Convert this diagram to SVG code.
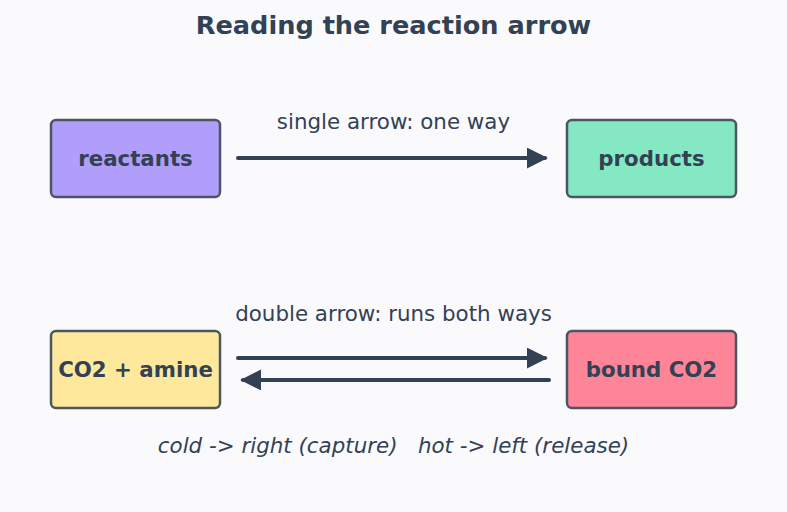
<svg xmlns="http://www.w3.org/2000/svg" width="787" height="512" viewBox="0 0 787 512">
<style>
text{font-family:"DejaVu Sans",sans-serif;fill:#334155}
.title{font-size:25.6px;font-weight:bold}
.node{font-size:21.3px;font-weight:bold}
.lbl{font-size:21.4px}
.note{font-size:21.4px;font-style:italic;white-space:pre}
.box{stroke:#4b5563;stroke-width:2.5}
.conn{stroke:#334155;stroke-width:4;fill:none;stroke-linecap:round}
</style>
<defs>
<marker id="ah" markerWidth="5.5" markerHeight="5.5" refX="4.5" refY="2.6" orient="auto" markerUnits="strokeWidth">
<path d="M0,0 L5.2,2.6 L0,5.2 z" fill="#334155"/>
</marker>
</defs>
<rect width="787" height="512" fill="#fafafd"/>
<text class="title" x="393.5" y="34" text-anchor="middle">Reading the reaction arrow</text>
<g id="reactants"><rect class="box" x="51" y="120" width="169" height="77" rx="5" fill="#b19dfa"/><text class="node" x="135.5" y="165.5" text-anchor="middle">reactants</text></g>
<g id="products"><rect class="box" x="567" y="120" width="169" height="77" rx="5" fill="#84e9c2"/><text class="node" x="651.5" y="165.5" text-anchor="middle">products</text></g>
<g id="co2amine"><rect class="box" x="51" y="331" width="169" height="77" rx="5" fill="#fde89b"/><text class="node" x="135.5" y="376.5" text-anchor="middle">CO2 + amine</text></g>
<g id="boundco2"><rect class="box" x="567" y="331" width="169" height="77" rx="5" fill="#fe8497"/><text class="node" x="651.5" y="376.5" text-anchor="middle">bound CO2</text></g>
<g id="connectors">
<line class="conn" x1="238" y1="158" x2="545" y2="158" marker-end="url(#ah)"/>
<line class="conn" x1="238" y1="358" x2="545" y2="358" marker-end="url(#ah)"/>
<line class="conn" x1="549" y1="380" x2="243" y2="380" marker-end="url(#ah)"/>
</g>
<text class="lbl" x="393.5" y="129" text-anchor="middle">single arrow: one way</text>
<text class="lbl" x="393.5" y="321" text-anchor="middle">double arrow: runs both ways</text>
<text class="note" x="393.5" y="453" text-anchor="middle" xml:space="preserve">cold -&gt; right (capture)   hot -&gt; left (release)</text>
</svg>
